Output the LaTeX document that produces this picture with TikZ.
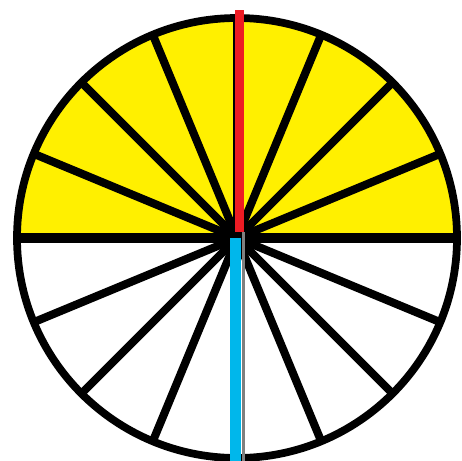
\documentclass[tikz,border=0pt]{standalone}
\usepackage{tikz}
\definecolor{fanYellow}{RGB}{255,240,0}
\definecolor{handRed}{RGB}{237,28,36}
\definecolor{handBlue}{RGB}{0,183,235}
\tikzset{
  spoke/.style={line width=4.6pt, black},
  rim/.style={line width=4.4pt, black}
}
\begin{document}
\begin{tikzpicture}
    % Fix the size of the picture
    \useasboundingbox (0, 0) rectangle (9.24, 9.2);

    % Center of the dial
    \coordinate (center) at (4.74, 4.44);

    % Yellow upper half
    \fill[fanYellow] ([xshift=4.4cm] center) arc (0:180:4.4cm) -- cycle;

    % Spokes every 22.5 degrees
    \foreach \a in {0, 22.5, ..., 337.5} {
      \draw[spoke] (center) -- ++(\a:4.4cm);
    }
    \draw[line width=5.5pt] ([xshift=-4.4cm] center) -- ([xshift=4.4cm] center);

    % Outer circle
    \draw[rim] (center) circle (4.4cm);

    \begin{scope}
      % Red hand pointing up
      \coordinate (redTop) at ([xshift=0.05cm, yshift=4.56cm] center);
      \draw[handRed, line width=5pt] ([xshift=0.05cm, yshift=0.12cm] center) -- (redTop);
    \end{scope}

    \begin{scope}
      % Blue hand pointing down, with a gray edge
      \coordinate (blueBottom) at ([xshift=-0.03cm, yshift=-4.46cm] center);
      \draw[gray, line width=1.8pt] ([xshift=0.13cm, yshift=0.12cm] center) -- ([xshift=0.13cm, yshift=-4.46cm] center);
      \draw[handBlue, line width=6pt] ([xshift=-0.03cm] center) -- (blueBottom);
    \end{scope}
  \end{tikzpicture}
\end{document}
